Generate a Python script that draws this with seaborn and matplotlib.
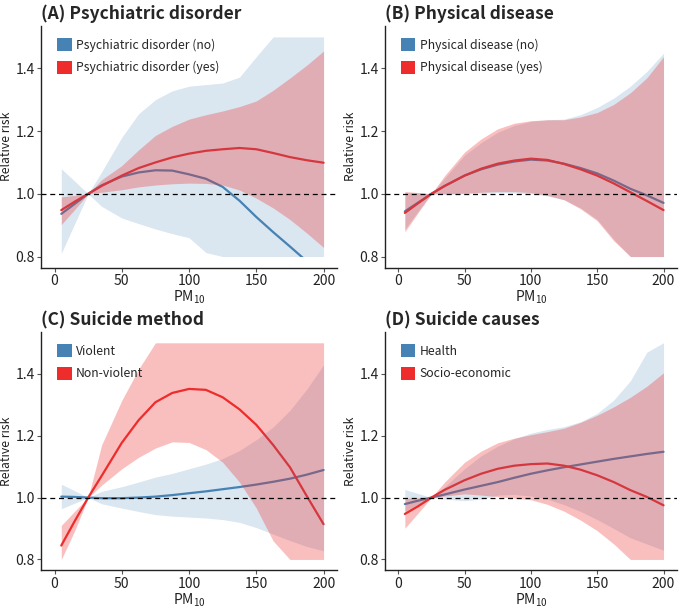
import numpy as np
import pandas as pd
import seaborn as sns
import matplotlib.pyplot as plt
from matplotlib.patches import Patch, Rectangle

pm10 = [5, 15, 25, 35, 50, 62.5, 75, 87.5, 100, 112.5, 125, 137.5, 150, 162.5, 175, 187.5, 200]

titles = ["(A) Psychiatric disorder", "(B) Physical disease", "(C) Suicide method", "(D) Suicide causes"]
labels_a = ["Psychiatric disorder (no)", "Psychiatric disorder (yes)"]
labels_b = ["Physical disease (no)", "Physical disease (yes)"]
labels_c = ["Violent", "Non-violent"]
labels_d = ["Health", "Socio-economic"]

# (A) psychiatric disorder
a_no_est = [0.936, 0.968, 1.0, 1.027, 1.055, 1.068, 1.075, 1.074, 1.062, 1.048, 1.022, 0.978, 0.926, 0.878, 0.832, 0.785, 0.735]
a_no_lo = [0.81, 0.905, 1.0, 0.96, 0.923, 0.905, 0.888, 0.873, 0.86, 0.813, 0.8, 0.8, 0.8, 0.8, 0.8, 0.8, 0.8]
a_no_hi = [1.08, 1.04, 1.0, 1.07, 1.18, 1.255, 1.3, 1.328, 1.343, 1.348, 1.353, 1.372, 1.437, 1.5, 1.5, 1.5, 1.5]
a_yes_est = [0.948, 0.975, 1.0, 1.025, 1.058, 1.082, 1.1, 1.116, 1.128, 1.137, 1.142, 1.146, 1.142, 1.13, 1.117, 1.107, 1.099]
a_yes_lo = [0.902, 0.95, 1.0, 1.005, 1.013, 1.022, 1.028, 1.032, 1.034, 1.033, 1.028, 1.012, 0.986, 0.955, 0.918, 0.875, 0.829]
a_yes_hi = [0.99, 0.995, 1.0, 1.045, 1.09, 1.14, 1.186, 1.215, 1.238, 1.252, 1.264, 1.278, 1.296, 1.33, 1.369, 1.41, 1.455]

# (B) physical disease
b_no_est = [0.944, 0.972, 1.0, 1.025, 1.058, 1.078, 1.093, 1.103, 1.109, 1.106, 1.096, 1.082, 1.065, 1.042, 1.016, 0.995, 0.971]
b_no_lo = [0.887, 0.945, 1.0, 0.998, 1.0, 1.002, 1.004, 1.003, 1.0, 0.993, 0.981, 0.955, 0.918, 0.855, 0.8, 0.8, 0.8]
b_no_hi = [1.005, 1.003, 1.0, 1.05, 1.123, 1.163, 1.196, 1.218, 1.231, 1.236, 1.238, 1.252, 1.275, 1.305, 1.343, 1.39, 1.448]
b_yes_est = [0.939, 0.97, 1.0, 1.025, 1.058, 1.08, 1.096, 1.106, 1.112, 1.108, 1.095, 1.078, 1.058, 1.033, 1.005, 0.977, 0.948]
b_yes_lo = [0.879, 0.94, 1.0, 1.0, 1.002, 1.005, 1.007, 1.007, 1.004, 0.995, 0.981, 0.952, 0.914, 0.85, 0.8, 0.8, 0.8]
b_yes_hi = [1.007, 1.004, 1.0, 1.058, 1.133, 1.175, 1.207, 1.225, 1.233, 1.236, 1.236, 1.245, 1.259, 1.285, 1.322, 1.37, 1.437]

# (C) suicide method
c_vio_est = [1.003, 1.002, 1.0, 0.998, 0.998, 1.0, 1.003, 1.008, 1.014, 1.02, 1.027, 1.034, 1.042, 1.051, 1.061, 1.074, 1.089]
c_vio_lo = [0.964, 0.982, 1.0, 0.98, 0.966, 0.955, 0.945, 0.94, 0.937, 0.934, 0.929, 0.92, 0.903, 0.882, 0.861, 0.842, 0.828]
c_vio_hi = [1.043, 1.022, 1.0, 1.02, 1.035, 1.05, 1.066, 1.078, 1.093, 1.108, 1.126, 1.152, 1.187, 1.228, 1.282, 1.35, 1.429]
c_non_est = [0.845, 0.924, 1.0, 1.07, 1.177, 1.25, 1.308, 1.338, 1.351, 1.348, 1.324, 1.285, 1.235, 1.17, 1.098, 1.005, 0.914]
c_non_lo = [0.8, 0.893, 1.0, 1.04, 1.093, 1.13, 1.16, 1.18, 1.178, 1.155, 1.114, 1.05, 0.966, 0.86, 0.8, 0.8, 0.8]
c_non_hi = [0.91, 0.956, 1.0, 1.17, 1.314, 1.415, 1.5, 1.5, 1.5, 1.5, 1.5, 1.5, 1.5, 1.5, 1.5, 1.5, 1.5]

# (D) suicide causes
d_hea_est = [0.979, 0.99, 1.0, 1.01, 1.026, 1.038, 1.05, 1.064, 1.077, 1.088, 1.098, 1.107, 1.116, 1.125, 1.133, 1.141, 1.148]
d_hea_lo = [0.956, 0.978, 1.0, 0.995, 0.99, 0.995, 1.008, 1.01, 1.005, 0.995, 0.977, 0.955, 0.929, 0.9, 0.87, 0.85, 0.83]
d_hea_hi = [1.026, 1.013, 1.0, 1.035, 1.093, 1.135, 1.166, 1.19, 1.208, 1.22, 1.229, 1.245, 1.272, 1.315, 1.377, 1.47, 1.5]
d_soc_est = [0.947, 0.972, 1.0, 1.025, 1.056, 1.077, 1.093, 1.103, 1.108, 1.11, 1.103, 1.09, 1.072, 1.05, 1.024, 1.002, 0.975]
d_soc_lo = [0.901, 0.95, 1.0, 1.005, 1.012, 1.008, 1.003, 0.998, 0.993, 0.978, 0.956, 0.927, 0.893, 0.85, 0.8, 0.8, 0.8]
d_soc_hi = [0.998, 0.999, 1.0, 1.05, 1.114, 1.15, 1.177, 1.192, 1.203, 1.213, 1.224, 1.243, 1.266, 1.293, 1.324, 1.36, 1.403]

panels = [
    (labels_a, (a_no_est, a_no_lo, a_no_hi), (a_yes_est, a_yes_lo, a_yes_hi)),
    (labels_b, (b_no_est, b_no_lo, b_no_hi), (b_yes_est, b_yes_lo, b_yes_hi)),
    (labels_c, (c_vio_est, c_vio_lo, c_vio_hi), (c_non_est, c_non_lo, c_non_hi)),
    (labels_d, (d_hea_est, d_hea_lo, d_hea_hi), (d_soc_est, d_soc_lo, d_soc_hi)),
]

BLUE = "#4682B4"
RED = "#EE2C2C"

sns.set_style("ticks")
plt.rcParams["font.family"] = ["Noto Sans CJK KR", "DejaVu Sans"]
plt.rcParams["mathtext.default"] = "regular"

fig = plt.figure(figsize=(6.85, 6.08), dpi=100)
positions = [
    [0.060, 0.5600, 0.432, 0.3973],
    [0.562, 0.5600, 0.426, 0.3973],
    [0.060, 0.0620, 0.432, 0.3920],
    [0.562, 0.0620, 0.426, 0.3920],
]

for i, (labels, first, second) in enumerate(panels):
    ax = fig.add_axes(positions[i])
    df = pd.DataFrame({
        "pm10": pm10 * 2,
        "rr": list(first[0]) + list(second[0]),
        "group": [labels[0]] * len(pm10) + [labels[1]] * len(pm10),
    })
    sns.lineplot(data=df, x="pm10", y="rr", hue="group", hue_order=labels,
                 palette=[BLUE, RED], linewidth=1.6, legend=False, ax=ax, zorder=2)
    ax.fill_between(pm10, first[1], first[2], color=BLUE, alpha=0.2, linewidth=0, zorder=3)
    ax.fill_between(pm10, second[1], second[2], color=RED, alpha=0.3, linewidth=0, zorder=4)

    clip = Rectangle((-10, 0.8), 220, 0.7, transform=ax.transData)
    for ln in ax.lines:
        ln.set_clip_path(clip)

    ax.axhline(1.0, color="black", linestyle=(0, (4, 3)), linewidth=0.9, zorder=5)

    ax.set_xlim(-10, 210)
    ax.set_ylim(0.765, 1.535)
    ax.set_xticks([0, 50, 100, 150, 200])
    ax.set_yticks([0.8, 1.0, 1.2, 1.4])
    ax.set_yticklabels(["0.8", "1.0", "1.2", "1.4"])
    ax.tick_params(axis="both", labelsize=10, length=3, width=0.8, color="#555555",
                   labelcolor="#222222", pad=1.5)
    ax.set_xlabel("PM$_{10}$", fontsize=10, labelpad=0.5, color="#222222")
    ax.set_ylabel("Relative risk", fontsize=8.8, labelpad=1.5, color="#222222")
    ax.set_title(titles[i], loc="left", fontsize=12.5, fontweight="bold", pad=5)
    for s in ["left", "bottom"]:
        ax.spines[s].set_linewidth(1.0)
        ax.spines[s].set_color("#222222")
    sns.despine(ax=ax)

    handles = [Patch(facecolor=BLUE, edgecolor="none"), Patch(facecolor=RED, edgecolor="none")]
    ax.legend(handles, labels, loc="upper left", bbox_to_anchor=(0.025, 0.985), frameon=False,
              fontsize=8.8, handlelength=1.2, handleheight=1.25, handletextpad=0.35,
              labelspacing=0.75, borderaxespad=0.3)

fig.savefig("out.png", dpi=100)
